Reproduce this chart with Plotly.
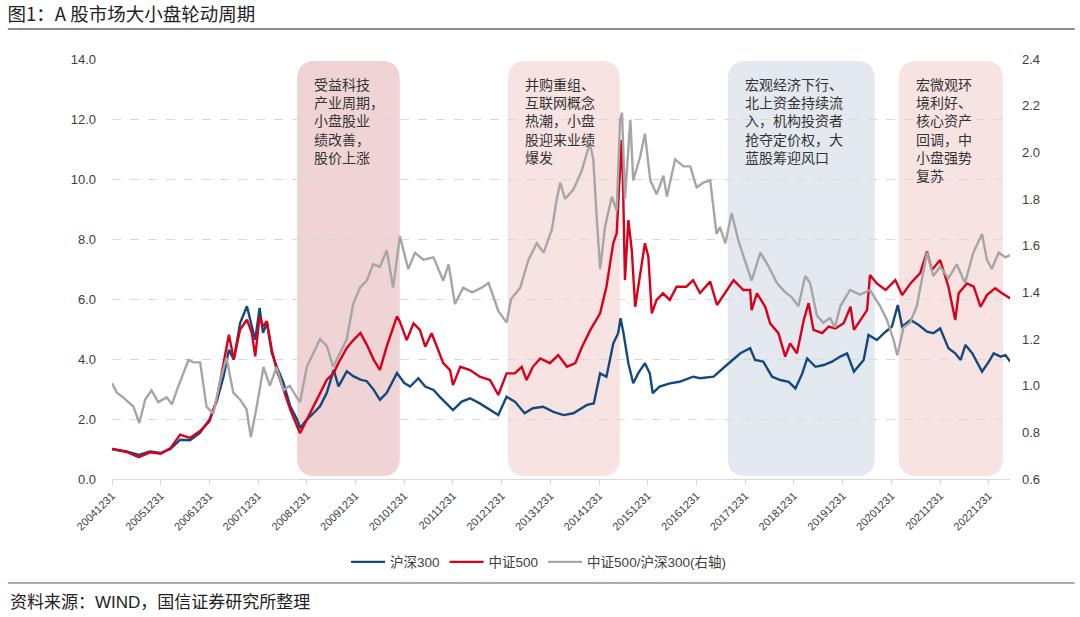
import pandas as pd
import plotly.graph_objects as go

# ---------------- data ----------------
# time is given as fractional year, 2005.00 == 20041231
hs300_year = [
    2005.00, 2005.30, 2005.55, 2005.78,
    2006.00, 2006.20, 2006.40, 2006.60, 2006.80,
    2007.00, 2007.15, 2007.29, 2007.40, 2007.50, 2007.63, 2007.77, 2007.87, 2007.94,
    2008.03, 2008.10, 2008.18, 2008.28, 2008.38, 2008.52, 2008.66, 2008.80, 2008.86,
    2009.00, 2009.14, 2009.27, 2009.41, 2009.55, 2009.65, 2009.82, 2009.96,
    2010.10, 2010.23, 2010.37, 2010.50, 2010.64, 2010.85,
    2011.00, 2011.12, 2011.29, 2011.43, 2011.60, 2011.73, 2011.94,
    2012.00, 2012.18, 2012.35, 2012.55, 2012.76, 2012.93,
    2013.10, 2013.27, 2013.47, 2013.64, 2013.85,
    2014.06, 2014.27, 2014.47, 2014.75, 2014.89,
    2015.02, 2015.15, 2015.29, 2015.39, 2015.44, 2015.50, 2015.60, 2015.70, 2015.80, 2015.94,
    2016.04, 2016.10, 2016.24, 2016.45, 2016.65, 2016.93,
    2017.07, 2017.35, 2017.62, 2017.90,
    2018.10, 2018.20, 2018.37, 2018.55, 2018.72, 2018.89,
    2019.03, 2019.17, 2019.27, 2019.44, 2019.61, 2019.78, 2019.95,
    2020.09, 2020.23, 2020.43, 2020.53, 2020.70, 2020.88,
    2021.01, 2021.13, 2021.22, 2021.39, 2021.56, 2021.73, 2021.86,
    2022.00, 2022.17, 2022.31, 2022.42, 2022.52, 2022.66, 2022.86,
    2023.00, 2023.10, 2023.24, 2023.34, 2023.44,
]
hs300_value = [
    1.00, 0.92, 0.80, 0.92,
    0.87, 1.00, 1.31, 1.29, 1.53,
    1.98, 2.59, 3.42, 4.31, 3.98, 5.20, 5.76, 5.09, 4.64,
    5.70, 4.87, 5.20, 4.20, 3.76, 3.20, 2.42, 1.98, 1.70,
    1.98, 2.20, 2.42, 2.87, 3.64, 3.09, 3.59, 3.42,
    3.31, 3.26, 2.98, 2.64, 2.87, 3.53,
    3.20, 3.08, 3.36, 3.08, 2.97, 2.74, 2.41,
    2.30, 2.58, 2.69, 2.52, 2.30, 2.13,
    2.74, 2.58, 2.19, 2.36, 2.41,
    2.24, 2.13, 2.19, 2.47, 2.52,
    3.52, 3.41, 4.52, 4.86, 5.36, 4.86, 3.86, 3.19, 3.52, 3.86,
    3.52, 2.86, 3.08, 3.19, 3.24, 3.41,
    3.36, 3.41, 3.80, 4.19,
    4.36, 3.97, 3.91, 3.41, 3.30, 3.24,
    3.02, 3.52, 4.02, 3.74, 3.80, 3.91, 4.08,
    4.19, 3.58, 3.97, 4.80, 4.63, 4.91,
    5.08, 5.80, 5.08, 5.30, 5.13, 4.91, 4.86,
    5.02, 4.36, 4.19, 3.97, 4.47, 4.19, 3.58,
    3.91, 4.19, 4.08, 4.13, 3.91,
]

zz500_year = [
    2005.00, 2005.30, 2005.55, 2005.78,
    2006.00, 2006.20, 2006.40, 2006.60, 2006.80,
    2007.00, 2007.15, 2007.29, 2007.40, 2007.50, 2007.63, 2007.77, 2007.87, 2007.94,
    2008.03, 2008.10, 2008.18, 2008.28, 2008.38, 2008.52, 2008.66, 2008.80, 2008.86,
    2009.00, 2009.14, 2009.27, 2009.41, 2009.55, 2009.65, 2009.82, 2009.96,
    2010.10, 2010.23, 2010.37, 2010.50, 2010.64, 2010.85, 2010.91,
    2011.00, 2011.05, 2011.19, 2011.32, 2011.43, 2011.56, 2011.67, 2011.80, 2011.94,
    2012.00, 2012.15, 2012.35, 2012.55, 2012.76, 2012.93,
    2013.10, 2013.27, 2013.41, 2013.51, 2013.64, 2013.79, 2013.99,
    2014.16, 2014.34, 2014.51, 2014.65, 2014.82,
    2015.02, 2015.15, 2015.29, 2015.36, 2015.43, 2015.46, 2015.49, 2015.53, 2015.60, 2015.67, 2015.74, 2015.84, 2015.94,
    2016.01, 2016.08, 2016.18, 2016.31, 2016.45, 2016.59, 2016.79, 2016.93,
    2017.07, 2017.28, 2017.42, 2017.55, 2017.76, 2017.96,
    2018.10, 2018.13, 2018.24, 2018.41, 2018.51, 2018.68, 2018.82, 2018.92,
    2019.06, 2019.20, 2019.30, 2019.40, 2019.58, 2019.71, 2019.85,
    2020.02, 2020.16, 2020.23, 2020.37, 2020.50, 2020.56, 2020.70, 2020.88,
    2021.08, 2021.22, 2021.39, 2021.59, 2021.73, 2021.83,
    2022.00, 2022.17, 2022.31, 2022.38, 2022.55, 2022.69, 2022.83, 2022.96,
    2023.13, 2023.27, 2023.44,
]
zz500_value = [
    1.00, 0.90, 0.73, 0.89,
    0.84, 1.03, 1.48, 1.37, 1.59,
    1.92, 2.64, 3.87, 4.81, 3.98, 4.98, 5.31, 4.87, 4.09,
    5.42, 5.09, 5.26, 4.31, 3.64, 2.98, 2.31, 1.76, 1.53,
    1.98, 2.42, 2.87, 3.31, 3.53, 3.87, 4.37, 4.64,
    4.87, 4.48, 3.98, 3.64, 4.42, 5.42, 5.24,
    4.87, 4.63, 5.19, 4.97, 4.41, 4.86, 4.41, 3.86, 3.63,
    3.13, 3.74, 3.63, 3.41, 3.30, 2.80,
    3.52, 3.52, 3.74, 3.30, 3.74, 4.02, 3.86,
    4.13, 3.74, 3.86, 4.41, 4.97,
    5.52, 6.41, 7.86, 8.19, 10.08, 11.30, 9.86, 6.63, 8.63, 7.63, 5.74, 6.86, 7.86,
    7.41, 5.52, 5.97, 6.19, 5.97, 6.41, 6.41, 6.63,
    6.20, 6.58, 5.80, 6.13, 6.63, 6.30,
    6.30, 5.63, 6.19, 5.74, 5.19, 4.86, 4.08, 4.52,
    4.19, 5.30, 5.86, 4.97, 4.86, 5.08, 5.02,
    5.19, 5.74, 4.97, 5.30, 5.63, 6.80, 6.52, 6.30,
    6.63, 6.13, 6.52, 6.86, 7.58, 6.97,
    7.30, 6.41, 5.30, 6.19, 6.52, 6.41, 5.74, 6.13,
    6.36, 6.19, 6.02,
]

ratio_year = [
    2005.00, 2005.10, 2005.23, 2005.44, 2005.56, 2005.68, 2005.81, 2005.95,
    2006.12, 2006.23, 2006.33, 2006.46, 2006.57, 2006.67, 2006.81, 2006.94,
    2007.08, 2007.22, 2007.35, 2007.49, 2007.63, 2007.76, 2007.85, 2007.97,
    2008.11, 2008.24, 2008.38, 2008.52, 2008.65, 2008.79, 2008.86,
    2009.00, 2009.13, 2009.27, 2009.41, 2009.54, 2009.68, 2009.82, 2009.95,
    2010.09, 2010.23, 2010.36, 2010.50, 2010.64, 2010.77, 2010.91,
    2011.08, 2011.22, 2011.39, 2011.60, 2011.80, 2011.91,
    2012.04, 2012.21, 2012.39, 2012.59, 2012.73, 2012.93,
    2013.10, 2013.19, 2013.38, 2013.55, 2013.72, 2013.86,
    2014.03, 2014.13, 2014.20, 2014.30, 2014.47, 2014.64, 2014.81, 2014.88, 2014.95,
    2015.02, 2015.12, 2015.26, 2015.36, 2015.43, 2015.47, 2015.53, 2015.64, 2015.70, 2015.84, 2015.94,
    2016.05, 2016.18, 2016.32, 2016.39, 2016.56, 2016.73, 2016.87,
    2017.00, 2017.14, 2017.28, 2017.41, 2017.48, 2017.59, 2017.72, 2017.86, 2017.99,
    2018.13, 2018.31, 2018.48, 2018.65, 2018.82, 2018.95,
    2019.09, 2019.23, 2019.33, 2019.47, 2019.60, 2019.74, 2019.84, 2019.95,
    2020.15, 2020.36, 2020.56, 2020.77, 2020.91,
    2021.04, 2021.12, 2021.25, 2021.38, 2021.52, 2021.66, 2021.73, 2021.86,
    2022.00, 2022.17, 2022.34, 2022.51, 2022.68, 2022.86, 2022.96,
    2023.06, 2023.20, 2023.34, 2023.44,
]
ratio_value = [
    1.01, 0.97, 0.95, 0.91, 0.84, 0.94, 0.98, 0.93,
    0.95, 0.92, 0.98, 1.05, 1.11, 1.10, 1.10, 0.91,
    0.88, 1.02, 1.12, 0.97, 0.94, 0.90, 0.78, 0.91,
    1.08, 1.00, 1.08, 0.98, 1.00, 0.95, 0.93,
    1.08, 1.14, 1.20, 1.17, 1.08, 1.14, 1.20, 1.35,
    1.42, 1.45, 1.52, 1.51, 1.58, 1.42, 1.64,
    1.50, 1.57, 1.54, 1.55, 1.45, 1.52,
    1.35, 1.42, 1.40, 1.42, 1.44, 1.32,
    1.27, 1.37, 1.42, 1.54, 1.61, 1.57,
    1.67, 1.80, 1.87, 1.80, 1.84, 1.92, 2.04, 1.97, 1.72,
    1.50, 1.68, 1.81, 1.75, 2.14, 2.17, 1.80, 2.14, 1.88, 1.98, 2.08,
    1.88, 1.82, 1.90, 1.81, 1.97, 1.94, 1.94,
    1.85, 1.87, 1.88, 1.65, 1.68, 1.61, 1.74, 1.62, 1.54,
    1.45, 1.57, 1.51, 1.44, 1.40, 1.38,
    1.34, 1.47, 1.44, 1.30, 1.27, 1.29, 1.25, 1.34,
    1.41, 1.39, 1.41, 1.34, 1.28,
    1.20, 1.13, 1.25, 1.27, 1.34, 1.50, 1.57, 1.47,
    1.51, 1.46, 1.52, 1.44, 1.57, 1.65, 1.54,
    1.50, 1.57, 1.55, 1.56,
]

tick_labels = [
    "20041231", "20051231", "20061231", "20071231", "20081231", "20091231",
    "20101231", "20111231", "20121231", "20131231", "20141231", "20151231",
    "20161231", "20171231", "20181231", "20191231", "20201231", "20211231",
    "20221231",
]

series_names = ["沪深300", "中证500", "中证500/沪深300(右轴)"]

period_start = ["2008-10-19", "2013-02-16", "2017-08-22", "2021-02-24"]
period_end = ["2010-11-28", "2015-06-05", "2020-08-28", "2023-04-16"]
period_text = [
    "受益科技<br>产业周期，<br>小盘股业<br>绩改善，<br>股价上涨",
    "并购重组、<br>互联网概念<br>热潮，小盘<br>股迎来业绩<br>爆发",
    "宏观经济下行、<br>北上资金持续流<br>入，机构投资者<br>抢夺定价权，大<br>蓝股筹迎风口",
    "宏微观环<br>境利好、<br>核心资产<br>回调，中<br>小盘强势<br>复苏",
]
period_color = ["#f0d3d4", "#f8e3e3", "#e4e8ef", "#f8e3e3"]

# ---------------- helpers ----------------
BASE = pd.Timestamp("2004-12-31")


def to_dates(years):
    return [BASE + pd.Timedelta(days=(y - 2005.0) * 365.25) for y in years]


def rounded_box(x0, x1, y0, y1, rdays, ry):
    a = pd.Timestamp(x0)
    b = pd.Timestamp(x1)
    r = pd.Timedelta(days=rdays)
    f = lambda t: t.strftime("%Y-%m-%d")
    return (
        f"M {f(a + r)},{y0} L {f(b - r)},{y0} Q {f(b)},{y0} {f(b)},{y0 + ry} "
        f"L {f(b)},{y1 - ry} Q {f(b)},{y1} {f(b - r)},{y1} "
        f"L {f(a + r)},{y1} Q {f(a)},{y1} {f(a)},{y1 - ry} "
        f"L {f(a)},{y0 + ry} Q {f(a)},{y0} {f(a + r)},{y0} Z"
    )


FONT = "Arial, 'Liberation Sans', 'Noto Sans CJK SC', sans-serif"
CJK = "'Noto Sans CJK SC', 'Noto Sans', sans-serif"

fig = go.Figure()
fig.add_trace(go.Scatter(
    x=to_dates(hs300_year), y=hs300_value, name=series_names[0], mode="lines",
    line=dict(color="#124a80", width=2.4), yaxis="y",
))
fig.add_trace(go.Scatter(
    x=to_dates(zz500_year), y=zz500_value, name=series_names[1], mode="lines",
    line=dict(color="#d9001b", width=2.4), yaxis="y",
))
fig.add_trace(go.Scatter(
    x=to_dates(ratio_year), y=ratio_value, name=series_names[2], mode="lines",
    line=dict(color="#a6a6a6", width=2.4), yaxis="y2",
))

shapes = []
annotations = []
for s, e, t, c in zip(period_start, period_end, period_text, period_color):
    shapes.append(dict(
        type="path", xref="x", yref="paper", layer="between",
        path=rounded_box(s, e, 0.007, 0.995, 135, 0.045),
        fillcolor=c, line=dict(width=0),
    ))
    annotations.append(dict(
        x=s, xref="x", xanchor="left", xshift=15,
        y=0.970, yref="paper", yanchor="top",
        text=t, showarrow=False, align="left",
        font=dict(family=CJK, size=14, color="#333333"),
    ))

# title rule and footer rule (decoration)
shapes.append(dict(type="line", xref="paper", yref="paper", x0=-0.116, x1=1.072,
                   y0=1.0714, y1=1.0714, line=dict(color="#8c8c8c", width=2)))
shapes.append(dict(type="line", xref="paper", yref="paper", x0=-0.116, x1=1.072,
                   y0=-0.2476, y1=-0.2476, line=dict(color="#595959", width=1)))

annotations.append(dict(
    x=-0.116, xref="paper", xanchor="left", y=-0.295, yref="paper", yanchor="middle",
    text="资料来源：WIND，国信证券研究所整理", showarrow=False,
    font=dict(family=FONT, size=17, color="#222222"),
))

tick_dates = pd.to_datetime(tick_labels, format="%Y%m%d")

fig.update_layout(
    width=1080, height=617,
    margin=dict(l=112, r=70, t=59, b=138),
    paper_bgcolor="white", plot_bgcolor="white",
    font=dict(family=FONT, size=13, color="#404040"),
    title=dict(
        text="图1：A 股市场大小盘轮动周期", x=0.007, xanchor="left", xref="container",
        y=0.976, yanchor="middle", yref="container",
        font=dict(family=CJK, size=18.5, color="#222222"),
    ),
    xaxis=dict(
        type="date", range=[pd.Timestamp("2004-12-31"), pd.Timestamp("2023-06-08")],
        tickmode="array", tickvals=tick_dates, ticktext=tick_labels,
        tickangle=-45, tickfont=dict(size=11, color="#404040"),
        ticks="outside", ticklen=5, tickcolor="#d9d9d9",
        showline=True, linecolor="#d9d9d9", linewidth=1,
        showgrid=False, zeroline=False,
    ),
    yaxis=dict(
        range=[0, 14], dtick=2, tick0=0, tickformat=".1f",
        showgrid=True, gridcolor="#d9d9d9", griddash="dash", gridwidth=1,
        zeroline=False, showline=False, ticks="", ticklabelstandoff=15,
        tickfont=dict(size=13, color="#404040"),
    ),
    yaxis2=dict(
        overlaying="y", side="right", range=[0.6, 2.4], dtick=0.2, tick0=0.6,
        tickformat=".1f", showgrid=False, zeroline=False, showline=False, ticks="",
        ticklabelstandoff=11, tickfont=dict(size=13, color="#404040"),
    ),
    legend=dict(
        orientation="h", x=0.475, xanchor="center", y=0.089, yref="container",
        yanchor="middle", bgcolor="rgba(0,0,0,0)", itemwidth=34,
        font=dict(family=FONT, size=13.5, color="#404040"),
    ),
    shapes=shapes,
    annotations=annotations,
    showlegend=True,
)

fig.write_html(
    "out.html",
    config={"displayModeBar": False},
    post_script="document.body.style.margin='0';document.body.style.overflow='hidden';",
)
